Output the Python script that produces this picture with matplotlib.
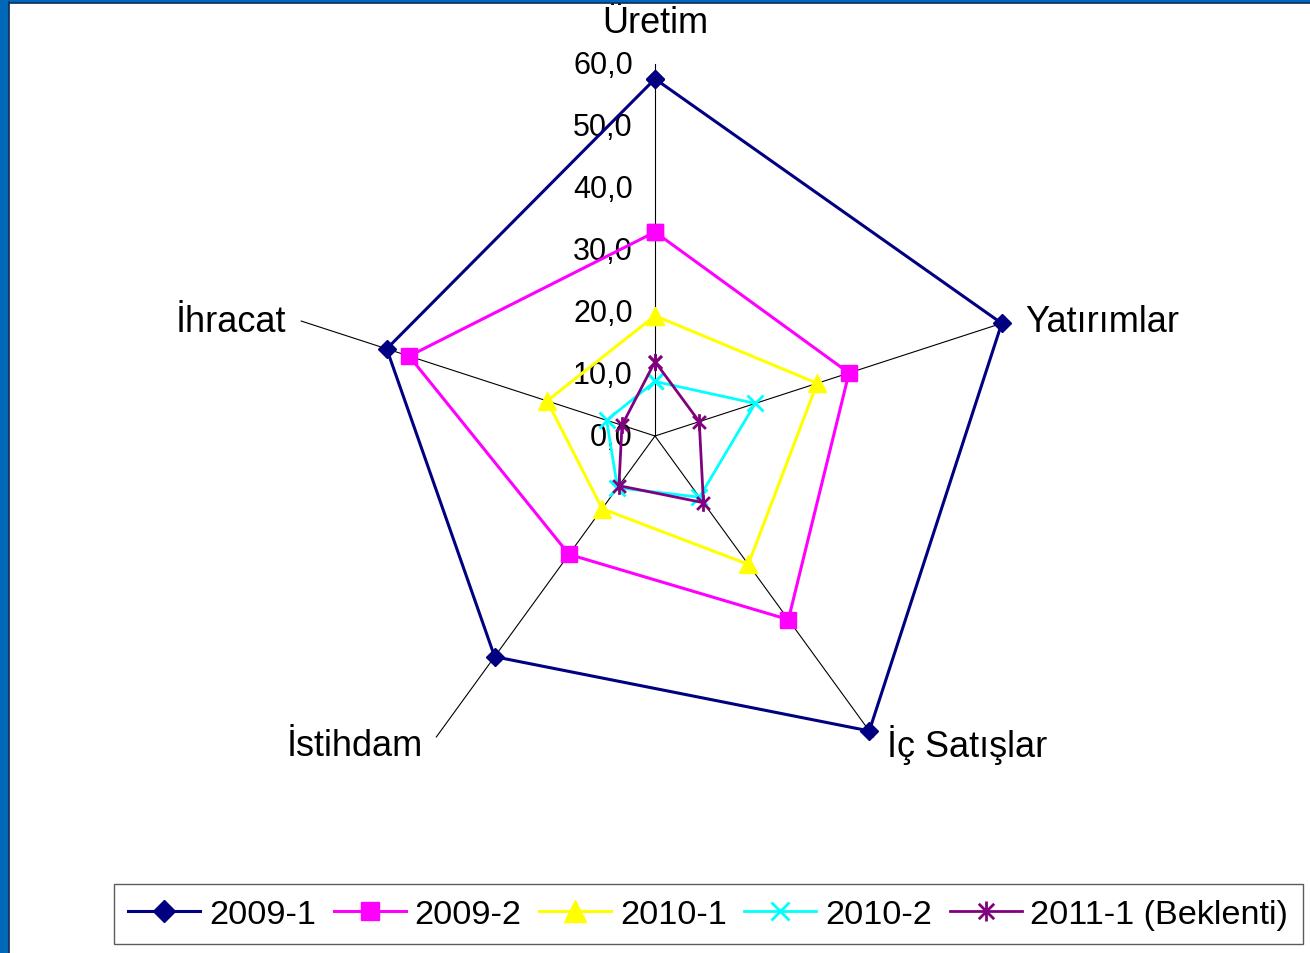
import numpy as np
import matplotlib
matplotlib.use("Agg")
import matplotlib.pyplot as plt
from matplotlib.path import Path
from matplotlib.patches import Rectangle

plt.rcParams['font.family'] = ['Liberation Sans', 'DejaVu Sans']

# %% data
categories = ['Üretim', 'Yatırımlar', 'İç Satışlar', 'İstihdam', 'İhracat']
series_names = ['2009-1', '2009-2', '2010-1', '2010-2', '2011-1 (Beklenti)']
s2009_1 = [57.6, 58.8, 58.8, 44.0, 45.5]
s2009_2 = [32.9, 32.9, 36.6, 23.6, 41.7]
s2010_1 = [19.4, 27.5, 25.6, 14.5, 18.3]
s2010_2 = [8.8, 17.0, 12.2, 10.3, 8.2]
s2011_1 = [12.0, 7.5, 13.3, 9.9, 5.6]
r_ticks = [0, 10, 20, 30, 40, 50, 60]
tick_labels = ['0,0', '10,0', '20,0', '30,0', '40,0', '50,0', '60,0']

# %% styles
asterisk = Path([(-1, -1), (1, 1), (-1, 1), (1, -1), (0, -1.3), (0, 1.3)],
                [Path.MOVETO, Path.LINETO, Path.MOVETO, Path.LINETO, Path.MOVETO, Path.LINETO])
styles = [
    dict(color='#000080', marker='D', ms=9, lw=2.2),
    dict(color='#FF00FF', marker='s', ms=11, lw=2.2),
    dict(color='#FFFF00', marker='^', ms=13, lw=2.2),
    dict(color='#00FFFF', marker='x', ms=11, lw=2.0, mew=2.0),
    dict(color='#800080', marker=asterisk, ms=12, lw=2.0, mew=2.0),
]

W, H = 1310, 954
fig = plt.figure(figsize=(W / 100, H / 100), dpi=100)

# slide frame (blue strip left and top)
fig.patches.append(Rectangle((0, 0), 8 / W, 1, transform=fig.transFigure,
                             color='#0068B8', zorder=0))
fig.patches.append(Rectangle((0, 1 - 3 / H), 1, 3 / H, transform=fig.transFigure,
                             color='#0068B8', zorder=0))
fig.lines.append(plt.Line2D([8.5 / W, 8.5 / W], [0, 1 - 3 / H], transform=fig.transFigure,
                            color='#10305a', lw=1.2))
fig.lines.append(plt.Line2D([8.5 / W, 1], [1 - 3.5 / H, 1 - 3.5 / H], transform=fig.transFigure,
                            color='#10305a', lw=1.2))

# polar axes: centre (655, 437) px, radius 372 px for 60
cx, cy, R = 655, 437, 372
ax = fig.add_axes([(cx - R) / W, (H - cy - R) / H, 2 * R / W, 2 * R / H], projection='polar')
ax.set_theta_zero_location('N')
ax.set_theta_direction(-1)
ax.set_ylim(0, 60)
ax.grid(False)
ax.spines['polar'].set_visible(False)
ax.set_xticks([])
ax.set_yticks([])
ax.patch.set_alpha(0)

n = len(categories)
theta = np.arange(n) * 2 * np.pi / n

# spokes
for t in theta:
    ax.plot([t, t], [0, r_ticks[-1]], color='black', lw=0.8, zorder=1, clip_on=False)

# value labels on the vertical axis
for v, lab in zip(r_ticks, tick_labels):
    ax.annotate(lab, xy=(0, v), xytext=(-16, -0.5), textcoords='offset points',
                ha='right', va='center', fontsize=22, zorder=2)

# category labels
offsets = [(0, 30, 'center'), (11.5, 0, 'left'), (9.5, -5, 'left'),
           (-9.5, -6, 'right'), (-11, 0, 'right')]
for t, cat, (dx, dy, ha) in zip(theta, categories, offsets):
    ax.annotate(cat, xy=(t, r_ticks[-1]), xytext=(dx, dy), textcoords='offset points',
                ha=ha, va='center', fontsize=26)

# series
th_closed = np.append(theta, theta[0])
handles = []
for vals, name, st in zip([s2009_1, s2009_2, s2010_1, s2010_2, s2011_1], series_names, styles):
    v = np.append(vals, vals[0])
    h, = ax.plot(th_closed, v, label=name, clip_on=False, zorder=3, **st)
    handles.append(h)

leg = fig.legend(handles=handles, loc='lower left', ncol=5,
                 bbox_to_anchor=(114 / W, (H - 945) / H), borderaxespad=0,
                 fontsize=24.7, handlelength=2.1, handletextpad=0.25, columnspacing=0.52,
                 borderpad=0.42, frameon=True, fancybox=False, edgecolor='#333333',
                 markerscale=1.2)
leg.get_frame().set_linewidth(1.0)

fig.savefig('out.png', dpi=100, facecolor='white')
